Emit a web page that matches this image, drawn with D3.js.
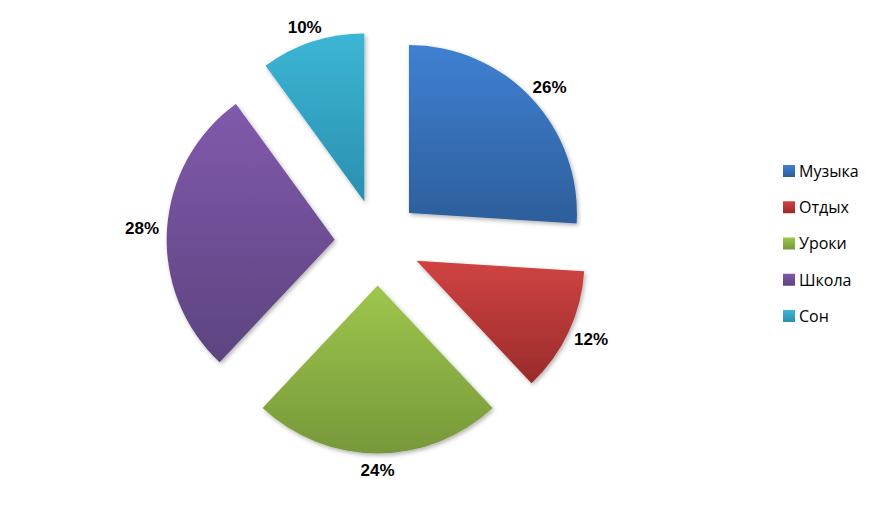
<!DOCTYPE html>
<html><head><meta charset="utf-8">
<script src="https://cdn.jsdelivr.net/npm/d3@7"></script>
<style>body{margin:0;background:#fff}svg{display:block}</style>
</head><body>
<script>
const categories = ["Музыка", "Отдых", "Уроки", "Школа", "Сон"];
const values = [26, 12, 24, 28, 10];
const labels = ["26%", "12%", "24%", "28%", "10%"];
const colorsTop = ["#3f80d2", "#d04342", "#9ec64c", "#8259ac", "#3cb6d6"];
const colorsBottom = ["#2d5e9b", "#9a2b2b", "#77983a", "#5c447f", "#2a8faf"];

const W = 876, H = 524;
const cx = 377.6, cy = 242.5, R = 168, explode = 43;

const svg = d3.select("body").append("svg").attr("width", W).attr("height", H);
const defs = svg.append("defs");
const f = defs.append("filter").attr("id", "sh").attr("x", "-10%").attr("y", "-10%").attr("width", "130%").attr("height", "130%");
f.append("feDropShadow").attr("dx", 1.5).attr("dy", 2).attr("stdDeviation", 2).attr("flood-color", "#000").attr("flood-opacity", 0.3);

categories.forEach((c, i) => {
  const g = defs.append("linearGradient").attr("id", "g" + i).attr("x1", 0).attr("y1", 0).attr("x2", 0).attr("y2", 1);
  g.append("stop").attr("offset", "0%").attr("stop-color", colorsTop[i]);
  g.append("stop").attr("offset", "100%").attr("stop-color", colorsBottom[i]);
});

const data = categories.map((c, i) => ({ c, v: values[i], l: labels[i], i }));
const pie = d3.pie().value(d => d.v).sort(null);
const arcs = pie(data);
const arc = d3.arc().innerRadius(0).outerRadius(R);

const root = svg.append("g").attr("transform", `translate(${cx},${cy})`);
const lw = 34, lh = 16;
arcs.forEach(a => {
  const mid = (a.startAngle + a.endAngle) / 2;
  const dx = Math.sin(mid), dy = -Math.cos(mid);
  const g = root.append("g").attr("transform", `translate(${dx * explode},${dy * explode})`);
  g.append("path").attr("d", arc(a)).attr("fill", `url(#g${a.data.i})`).attr("filter", "url(#sh)");
  const px = dx * (R + 8) + dx * lw / 2;
  const py = dy * (R + 8) + dy * lh / 2;
  g.append("text").attr("x", px).attr("y", py).attr("dy", "0.36em")
    .attr("text-anchor", "middle")
    .attr("font-family", "Liberation Sans, Arial, sans-serif")
    .attr("font-weight", "bold").attr("font-size", 17).attr("fill", "#000")
    .text(a.data.l);
});

const leg = svg.append("g").attr("transform", "translate(783,171)");
const ly = d3.scalePoint().domain(categories).range([0, 145]);
categories.forEach((c, i) => {
  const row = leg.append("g").attr("transform", `translate(0,${ly(c)})`);
  row.append("rect").attr("x", 0).attr("y", -6).attr("width", 12).attr("height", 12)
    .attr("fill", `url(#g${i})`);
  row.append("text").attr("x", 16).attr("y", 0).attr("dy", "0.36em")
    .attr("font-family", "Open Sans, sans-serif").attr("font-size", 16).attr("fill", "#000")
    .text(c);
});
</script>
</body></html>
